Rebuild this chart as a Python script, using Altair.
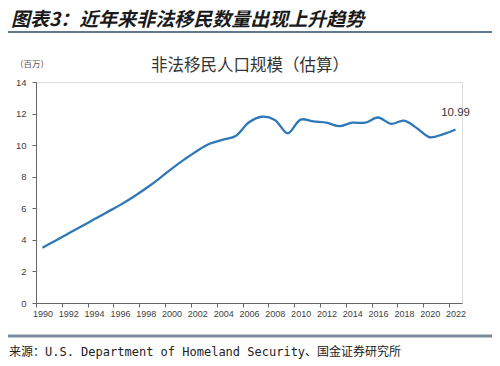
import altair as alt
import pandas as pd

years = list(range(1990, 2023))
values = [3.5, 3.95, 4.4, 4.85, 5.3, 5.75, 6.2, 6.7, 7.25, 7.85, 8.5, 9.1, 9.65,
          10.1, 10.35, 10.6, 11.45, 11.8, 11.6, 10.75, 11.62, 11.5, 11.42, 11.2,
          11.42, 11.42, 11.75, 11.35, 11.55, 11.08, 10.5, 10.68, 10.99]
label_years = list(range(1990, 2023, 2))
tick_positions = [1989.5 + 2 * i for i in range(17)]
y_ticks = [0, 2, 4, 6, 8, 10, 12, 14]

header = "图表3：近年来非法移民数量出现上升趋势"
title = "非法移民人口规模（估算）"
unit = "（百万）"
source = "来源：U.S. Department of Homeland Security、国金证券研究所"

df = pd.DataFrame({"year": years, "value": values})
last = df.tail(1)

W, H = 426, 221
AX = "#666666"
LBL = "#404040"
FONT = "Liberation Sans"
CJK = "Noto Sans CJK SC"

xscale = alt.Scale(domain=[1989.5, 2022.5], nice=False, zero=False)
yscale = alt.Scale(domain=[0, 14], nice=False)

line = alt.Chart(df).mark_line(
    color="#2E78B8", strokeWidth=2.3, interpolate="catmull-rom"
).encode(
    x=alt.X("year:Q", scale=xscale,
            axis=alt.Axis(values=label_years, format="d", title=None, ticks=False,
                          grid=False, domain=True, domainColor=AX, domainWidth=1,
                          labelFont=FONT, labelFontSize=9, labelColor=LBL,
                          labelPadding=6, orient="bottom", labelFlush=False,
                          labelOverlap=False)),
    y=alt.Y("value:Q", scale=yscale,
            axis=alt.Axis(values=y_ticks, title=None, grid=False, domainColor=AX,
                          tickColor=AX, tickSize=4, labelPadding=6, labelFont=FONT,
                          labelFontSize=9.5, labelColor=LBL, labelOverlap=False,
                          orient="left")),
)

ticks_df = pd.DataFrame({"year": tick_positions})
tick_layer = alt.Chart(ticks_df).mark_point(opacity=0).encode(
    x=alt.X("year:Q", scale=xscale,
            axis=alt.Axis(values=tick_positions, labels=False, title=None, ticks=True,
                          tickSize=4, tickColor=AX, tickWidth=1, domain=False,
                          grid=False, orient="bottom")),
)

end_label = alt.Chart(last).mark_text(
    dy=-17, fontSize=11.5, font=FONT, color="#333333"
).encode(
    x=alt.X("year:Q", scale=xscale, axis=None),
    y=alt.Y("value:Q", scale=yscale, axis=None),
    text=alt.Text("value:Q", format=".2f"),
)

one = alt.Data(values=[{}])

def deco_text(txt, x, y, size, align="left", font=CJK, weight="normal",
              style="normal", color="#222222"):
    return alt.Chart(one).mark_text(
        text=txt, fontSize=size, align=align, baseline="middle", font=font,
        fontWeight=weight, fontStyle=style, color=color
    ).encode(x=alt.value(x), y=alt.value(y))

header_t = deco_text(header, -25, -62, 19, weight="bold", style="italic", color="#1a1a1a")
title_t = deco_text(title, 214, -16, 16.5, align="center", color="#333333")
unit_t = deco_text(unit, -4, -18, 8.5, align="center", color="#555555")
source_t = deco_text(source, -27, 270, 12,
                     font="DejaVu Sans Mono, Noto Sans CJK SC", color="#222222")

header_rule = alt.Chart(one).mark_rule(color="#2d4a66", strokeWidth=1.5).encode(
    x=alt.value(-32), x2=alt.value(464), y=alt.value(-50))
footer_rule = alt.Chart(one).mark_rule(color="#7a8c9c", strokeWidth=3).encode(
    x=alt.value(-32), x2=alt.value(464), y=alt.value(254))

chart = alt.layer(
    line, tick_layer, end_label, header_t, title_t, unit_t, source_t,
    header_rule, footer_rule
).resolve_axis(x="independent", y="independent").properties(
    width=W, height=H,
    autosize=alt.AutoSizeParams(type="none"),
    padding={"left": 28, "top": 74, "right": 30, "bottom": 56},
).configure_view(stroke=None).configure(background="white")

chart.save("out.html", embed_options={"renderer": "svg", "actions": False})
